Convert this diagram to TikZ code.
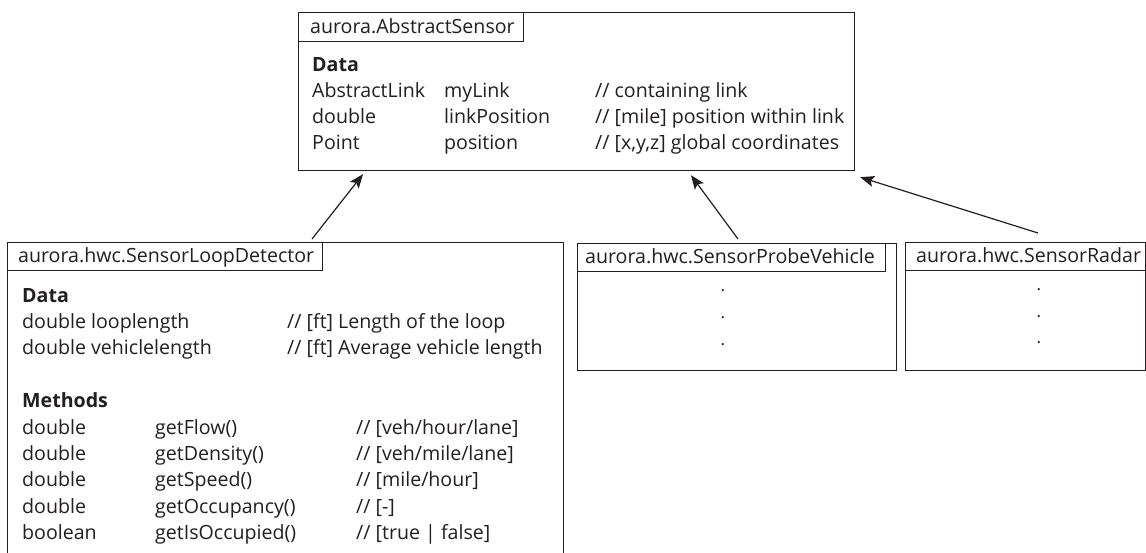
\documentclass[tikz,border=0pt]{standalone}
\usepackage{fontspec}
\setmainfont{Open Sans}
\usetikzlibrary{arrows.meta}
\definecolor{ink}{RGB}{35,31,32}
\begin{document}
\begin{tikzpicture}[x=1pt,y=-1pt,
  classbox/.style={draw=ink, line width=1.2pt, inner sep=0pt, anchor=north west, fill=none},
  tabbox/.style={draw=ink, line width=1.2pt, inner sep=0pt, anchor=north west},
  txt/.style={anchor=base west, inner sep=0pt, text=ink, font=\fontsize{19.6}{22}\selectfont},
  hd/.style={txt, font=\fontsize{19.6}{22}\selectfont\bfseries},
  dotx/.style={anchor=base, inner sep=0pt, text=ink, font=\fontsize{17}{20}\selectfont},
  arr/.style={draw=ink, line width=1.2pt, -{Stealth[length=14pt,width=11pt,inset=3pt]}}]
\clip (0,0) rectangle (1146,553);
\fill[white] (0,0) rectangle (1146,553);

% ---- top class
\node[classbox, minimum width=556pt, minimum height=158pt] (top) at (298,12) {};
\node[tabbox, minimum width=225pt, minimum height=29pt] (toptab) at (298,12) {};
\node[txt] (toptitle) at (310,34) {aurora.AbstractSensor};
\node[hd]  (tdata) at (312,72) {Data};
\node[txt] (t1a) at (312,98) {AbstractLink};
\node[txt] (t1b) at (444,98) {myLink};
\node[txt] (t1c) at (595,98) {// containing link};
\node[txt] (t2a) at (312,124) {double};
\node[txt] (t2b) at (444,124) {linkPosition};
\node[txt] (t2c) at (595,124) {// [mile] position within link};
\node[txt] (t3a) at (312,150) {Point};
\node[txt] (t3b) at (444,150) {position};
\node[txt] (t3c) at (595,150) {// [x,y,z] global coordinates};

% ---- loop detector
\node[classbox, minimum width=556pt, minimum height=358pt] (ld) at (7,242) {};
\node[tabbox, minimum width=315pt, minimum height=28pt] (ldtab) at (7,242) {};
\node[txt] (ldtitle) at (18,263) {aurora.hwc.SensorLoopDetector};
\node[hd]  (ldata) at (22,303) {Data};
\node[txt] (d1a) at (22,329) {double looplength};
\node[txt] (d1c) at (287,329) {// [ft] Length of the loop};
\node[txt] (d2a) at (22,354) {double vehiclelength};
\node[txt] (d2c) at (287,354) {// [ft] Average vehicle length};
\node[hd]  (lmeth) at (22,407) {Methods};
\node[txt] (m1a) at (22,434) {double};
\node[txt] (m1b) at (155,434) {getFlow()};
\node[txt] (m1c) at (356,434) {// [veh/hour/lane]};
\node[txt] (m2a) at (22,460) {double};
\node[txt] (m2b) at (155,460) {getDensity()};
\node[txt] (m2c) at (356,460) {// [veh/mile/lane]};
\node[txt] (m3a) at (22,486) {double};
\node[txt] (m3b) at (155,486) {getSpeed()};
\node[txt] (m3c) at (356,486) {// [mile/hour]};
\node[txt] (m4a) at (22,513) {double};
\node[txt] (m4b) at (155,513) {getOccupancy()};
\node[txt] (m4c) at (356,513) {// [-]};
\node[txt] (m5a) at (22,539) {boolean};
\node[txt] (m5b) at (155,539) {getIsOccupied()};
\node[txt] (m5c) at (356,539) {// [true | false]};

% ---- probe vehicle
\node[classbox, minimum width=319pt, minimum height=127pt] (pv) at (577,243) {};
\node[tabbox, minimum width=308pt, minimum height=28pt] (pvtab) at (577,243) {};
\node[txt] (pvtitle) at (585,264) {aurora.hwc.SensorProbeVehicle};
\node[dotx] (pvd1) at (723,292) {.};
\node[dotx] (pvd2) at (723,319) {.};
\node[dotx] (pvd3) at (723,345) {.};

% ---- radar
\node[classbox, minimum width=240pt, minimum height=128pt] (rd) at (905,242) {};
\node[tabbox, minimum width=240pt, minimum height=28pt] (rdtab) at (905,242) {};
\node[txt] (rdtitle) at (916,263) {aurora.hwc.SensorRadar};
\node[dotx] (rdd1) at (1039,291) {.};
\node[dotx] (rdd2) at (1039,318) {.};
\node[dotx] (rdd3) at (1039,344) {.};

% ---- generalisation arrows
\draw[arr] ([xshift=305pt,yshift=3pt]ld.north west) -- ([xshift=65pt,yshift=-3pt]top.south west);
\draw[arr] ([xshift=161pt,yshift=4pt]pv.north west) -- ([xshift=393pt,yshift=-4pt]top.south west);
\draw[arr] ([xshift=133pt,yshift=9pt]rd.north west) -- ([xshift=5pt,yshift=-6pt]top.south east);
\end{tikzpicture}
\end{document}
